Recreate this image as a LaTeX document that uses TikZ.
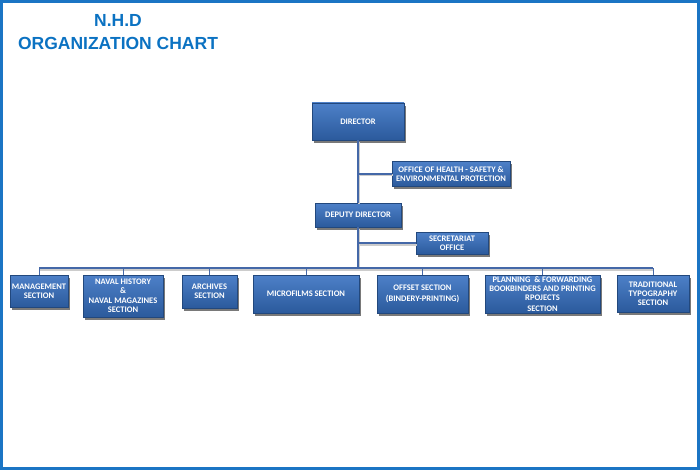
\documentclass[tikz,border=0pt]{standalone}
\usepackage{fontspec}
\setmainfont{Liberation Sans}
\newfontfamily\boxfont{Carlito}
\usetikzlibrary{shadows}
\definecolor{framebl}{HTML}{1B75C4}
\definecolor{titlebl}{HTML}{0B72C2}
\definecolor{boxtop}{HTML}{4D80C8}
\definecolor{boxbot}{HTML}{2B5A9C}
\definecolor{linkbl}{HTML}{4468A8}

\begin{document}
\begin{tikzpicture}[
    x=1pt, y=-1pt,
    orgbox/.style={top color=boxtop, bottom color=boxbot, draw=boxbot!80!black,
                   line width=0.4pt, align=center, inner sep=1pt, text=white,
                   font=\boxfont\bfseries\fontsize{8.5}{9}\selectfont,
                   drop shadow={shadow xshift=2pt, shadow yshift=-3pt, fill=black!75, opacity=0.7}},
    link/.style={draw=linkbl, line width=2pt,
                 preaction={draw=black!20, line width=2pt, transform canvas={shift={(1pt,-1.5pt)}}}},
    tick/.style={draw=linkbl, line width=1pt},
    title/.style={text=titlebl, font=\bfseries\fontsize{17.5}{19}\selectfont},
]
\useasboundingbox (0,0) rectangle (700,470);
\draw[framebl, line width=3pt] (1.5,1.5) rectangle (698.5,468.5);

% Titre
\node[title] (t1) at (118,20) {N.H.D};
\node[title] (t2) at (118,43) {ORGANIZATION CHART};

% Direction
\node[orgbox, minimum width=92pt, minimum height=37pt] (director) at (358,121.5) {DIRECTOR};
\node[orgbox, minimum width=118pt, minimum height=25pt] (health) at (451,174) {
    OFFICE OF HEALTH - SAFETY \&\\ENVIRONMENTAL PROTECTION};
\node[orgbox, minimum width=86pt, minimum height=24pt] (deputy) at (358,215) {DEPUTY DIRECTOR};
\node[orgbox, minimum width=72pt, minimum height=22pt] (secret) at (452,243) {
    SECRETARIAT\\OFFICE};

% Sections
\node[orgbox, minimum width=58pt, minimum height=32pt] (mgmt) at (39,291) {
    MANAGEMENT\\SECTION};
\node[orgbox, minimum width=80pt, minimum height=42pt] (naval) at (123,296) {
    NAVAL HISTORY\\\&\\[1pt]NAVAL MAGAZINES\\SECTION};
\node[orgbox, minimum width=55pt, minimum height=33pt] (archives) at (209.5,291.5) {
    ARCHIVES\\SECTION};
\node[orgbox, minimum width=106pt, minimum height=38pt] (micro) at (306,294) {
    MICROFILMS SECTION};
\node[orgbox, minimum width=91pt, minimum height=38pt] (offset) at (422.5,294) {
    OFFSET SECTION\\[2pt](BINDERY-PRINTING)};
\node[orgbox, minimum width=115pt, minimum height=38pt] (plan) at (542.5,294) {
    PLANNING \ \& FORWARDING\\BOOKBINDERS AND PRINTING\\RPOJECTS\\[2pt]SECTION};
\node[orgbox, minimum width=72pt, minimum height=37pt] (trad) at (653,293.5) {
    TRADITIONAL\\TYPOGRAPHY\\SECTION};

% Liaisons
\coordinate (bus) at (358,268);
\draw[link] (director.south) -- (deputy.north);
\draw[link] (director.south |- health.west) -- (health.west);
\draw[link] (deputy.south) -- (bus);
\draw[link] (deputy.south |- secret.west) -- (secret.west);
\draw[link, line width=1.5pt] (mgmt.north |- bus) -- (trad.north |- bus);
\foreach \n in {mgmt, naval, archives, micro, offset, plan, trad}
    \draw[tick] (bus -| \n.north) -- (\n.north);

\end{tikzpicture}
\end{document}
